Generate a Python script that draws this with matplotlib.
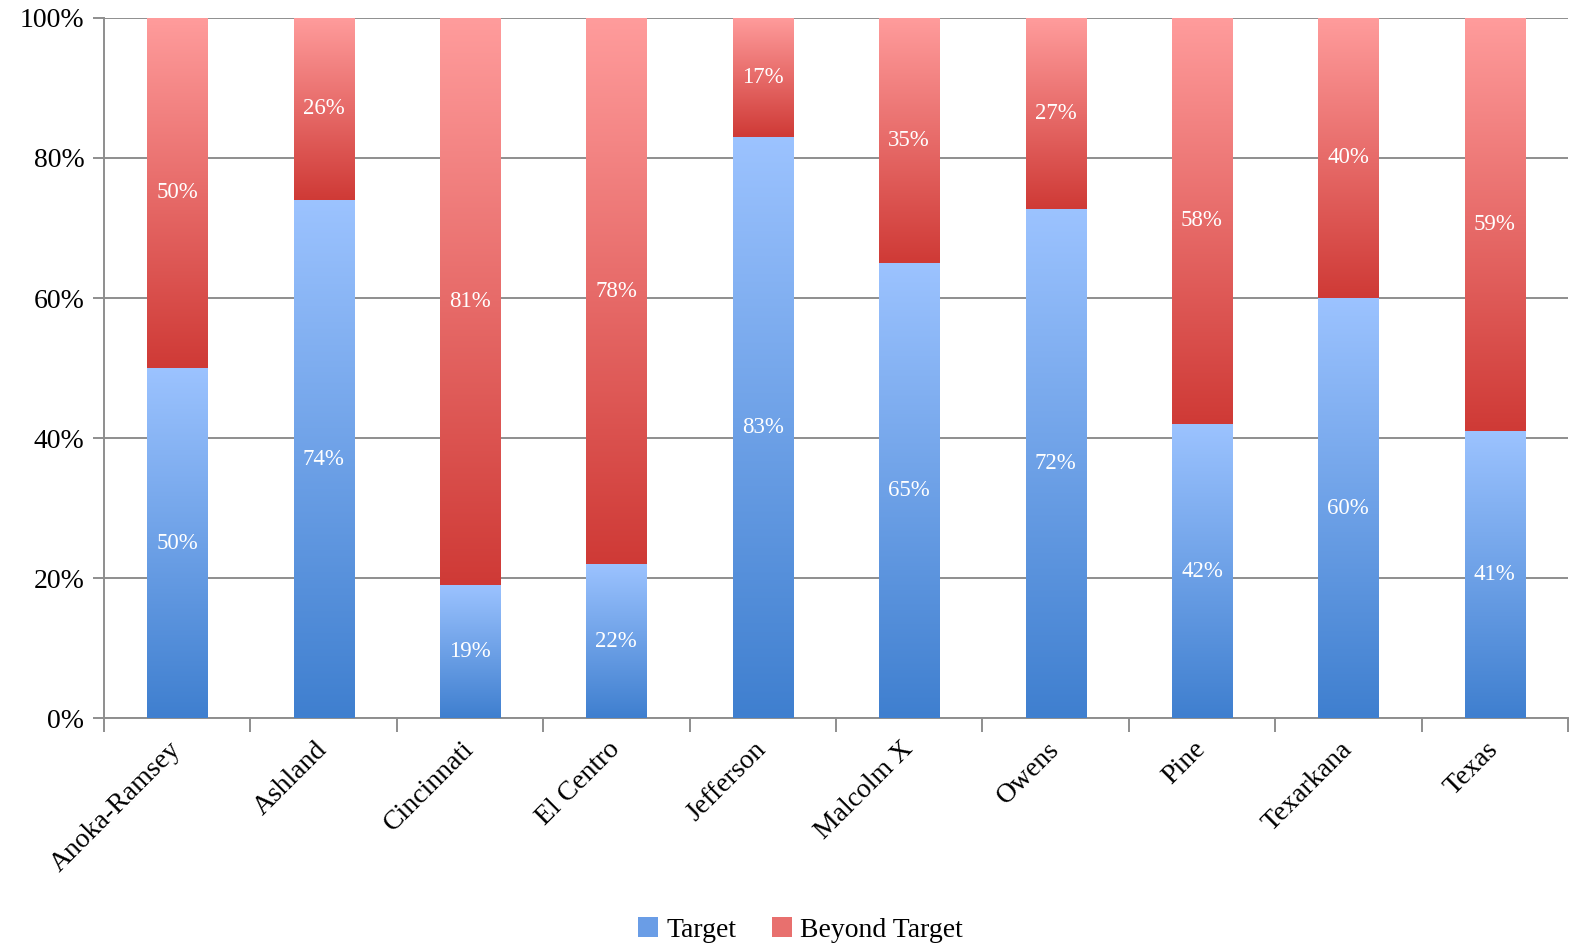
import numpy as np
import matplotlib
matplotlib.use("Agg")
import matplotlib.pyplot as plt
from matplotlib.colors import LinearSegmentedColormap
from matplotlib.patches import Patch

# data
colleges = ["Anoka-Ramsey", "Ashland", "Cincinnati", "El Centro", "Jefferson",
            "Malcolm X", "Owens", "Pine", "Texarkana", "Texas"]
target = [50, 74, 19, 22, 83, 65, 72, 42, 60, 41]
beyond = [50, 26, 81, 78, 17, 35, 27, 58, 40, 59]
yticks = [0, 20, 40, 60, 80, 100]

plt.rcParams["font.family"] = ["Liberation Serif", "DejaVu Serif"]

blue_cm = LinearSegmentedColormap.from_list("b", ["#3f7fcf", "#9cc3ff"])
red_cm = LinearSegmentedColormap.from_list("r", ["#cf3a36", "#ff9c9c"])
grad = np.linspace(0, 1, 256).reshape(-1, 1)

fig = plt.figure(figsize=(15.70, 9.47), dpi=100)
ax = fig.add_axes([0.0662, 0.2418, 0.9325, 0.7392])

width = 0.41
for i in range(len(colleges)):
    total = target[i] + beyond[i]
    t = target[i] / total * 100
    x0, x1 = i - width / 2, i + width / 2
    ax.imshow(grad, cmap=blue_cm, origin="lower", aspect="auto",
              extent=[x0, x1, 0, t], zorder=3)
    ax.imshow(grad, cmap=red_cm, origin="lower", aspect="auto",
              extent=[x0, x1, t, 100], zorder=3)
    ax.text(i, t / 2, f"{target[i]}%", color="white", ha="center", va="center",
            fontsize=16.5, zorder=4)
    ax.text(i, t + (100 - t) / 2, f"{beyond[i]}%", color="white", ha="center",
            va="center", fontsize=16.5, zorder=4)

ax.set_xlim(-0.5, len(colleges) - 0.5)
ax.set_ylim(0, 100)
ax.set_yticks(yticks)
ax.set_yticklabels([f"{v}%" for v in yticks], fontsize=20)
ax.yaxis.grid(True, color="#8e8e8e", lw=1.4, zorder=0)
ax.set_axisbelow(True)

ax.set_xticks(np.arange(len(colleges) + 1) - 0.5)
ax.set_xticklabels([])
ax.set_xticks(range(len(colleges)), minor=True)
ax.set_xticklabels(colleges, minor=True, rotation=45, ha="right", va="center",
                   rotation_mode="anchor", fontsize=20)
ax.tick_params(axis="x", which="minor", length=0, pad=20)
ax.tick_params(axis="x", which="major", length=10, color="#8e8e8e", width=1.4)
ax.tick_params(axis="y", length=8, color="#8e8e8e", width=1.4, pad=6)

for s in ["top", "right"]:
    ax.spines[s].set_visible(False)
for s in ["left", "bottom"]:
    ax.spines[s].set_color("#8e8e8e")
    ax.spines[s].set_linewidth(1.4)

handles = [Patch(facecolor="#6a9de6", label="Target"),
           Patch(facecolor="#e8706e", label="Beyond Target")]
fig.legend(handles=handles, loc="center", bbox_to_anchor=(0.51, 0.018),
           ncol=2, frameon=False, fontsize=20, handlelength=0.7,
           handleheight=0.7, handletextpad=0.3, columnspacing=1.3)

fig.savefig("out.png", dpi=100)
